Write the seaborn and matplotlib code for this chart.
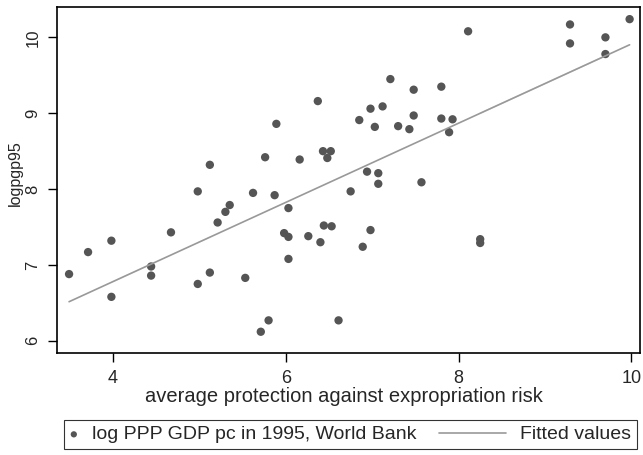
import numpy as np
import pandas as pd
import matplotlib
matplotlib.use("Agg")
import matplotlib.pyplot as plt
import seaborn as sb
from matplotlib.collections import PathCollection
from matplotlib.lines import Line2D
from matplotlib.legend_handler import HandlerLine2D, HandlerPathCollection

# average protection against expropriation risk (x) and log GDP pc 1995 (y)
avexpr = [6.37, 5.89, 5.12, 5.76, 6.16, 6.43, 6.52, 6.48, 4.98, 5.62, 5.87,
          9.98, 9.29, 9.29, 9.70, 9.70, 8.11, 7.21, 7.80, 7.48, 6.98, 7.12,
          6.85, 7.03, 7.30, 7.43, 7.48, 7.80, 7.93, 7.89, 6.94, 7.07, 7.07,
          7.57, 6.75, 5.35, 5.30, 5.21, 6.03, 4.67, 3.98, 3.71, 3.49, 4.44,
          4.44, 3.98, 4.98, 5.12, 5.53, 5.98, 6.03, 6.03, 6.26, 6.40, 6.44,
          6.53, 5.71, 5.80, 6.61, 6.98, 6.89, 8.25, 8.25]
logpgp95 = [9.16, 8.86, 8.32, 8.42, 8.39, 8.50, 8.50, 8.41, 7.97, 7.95, 7.92,
            10.24, 10.17, 9.92, 10.00, 9.78, 10.08, 9.45, 9.35, 9.31, 9.06, 9.09,
            8.91, 8.82, 8.83, 8.79, 8.97, 8.93, 8.92, 8.75, 8.23, 8.21, 8.07,
            8.09, 7.97, 7.79, 7.70, 7.56, 7.75, 7.43, 7.32, 7.17, 6.88, 6.98,
            6.86, 6.58, 6.75, 6.90, 6.83, 7.42, 7.37, 7.08, 7.38, 7.30, 7.52,
            7.51, 6.12, 6.27, 6.27, 7.46, 7.24, 7.34, 7.29]

xticks = [4, 6, 8, 10]
yticks = [6, 7, 8, 9, 10]

df = pd.DataFrame({"avexpr": avexpr, "logpgp95": logpgp95})

# fitted values from OLS
b, a = np.polyfit(df["avexpr"], df["logpgp95"], 1)
df["fitted"] = a + b * df["avexpr"]
df = df.sort_values("avexpr")


# long legend line that reaches back into the column gap (Stata-like key)
class LongLine(HandlerLine2D):
    def get_xdata(self, legend, xdescent, ydescent, width, height, fontsize):
        extra = 3.05 * fontsize
        xdata = np.array([-xdescent - extra, -xdescent + width])
        return xdata, xdata


sb.set_style("white")
plt.rcParams["font.family"] = ["Liberation Sans", "DejaVu Sans"]

fig = plt.figure(figsize=(6.43, 4.55), dpi=100)
ax = fig.add_axes([0.0886, 0.2242, 0.9067, 0.7604])

sb.scatterplot(data=df, x="avexpr", y="logpgp95", color="#555555", s=36,
               edgecolor="none", label="log PPP GDP pc in 1995, World Bank", ax=ax)
sb.lineplot(data=df, x="avexpr", y="fitted", color="#999999", linewidth=1.2,
            label="Fitted values", ax=ax)

ax.set_xlim(3.35, 10.10)
ax.set_ylim(5.84, 10.40)
ax.set_xticks(xticks)
ax.set_yticks(yticks)
ax.set_xticklabels([str(t) for t in xticks])
ax.set_yticklabels([str(t) for t in yticks], rotation=90, va="center")
ax.tick_params(axis="both", direction="out", length=6.5, width=1,
               bottom=True, left=True, color="black")
ax.tick_params(axis="x", labelsize=13, pad=6)
ax.tick_params(axis="y", labelsize=12, pad=5.4)
for sp in ax.spines.values():
    sp.set_color("black")
    sp.set_linewidth(1.2)

ax.set_xlabel("average protection against expropriation risk", fontsize=14.5, va="top")
ax.xaxis.set_label_coords(0.492, -0.099)
ax.set_ylabel("logpgp95", fontsize=11.5)
ax.yaxis.set_label_coords(-0.058, 0.52)

handles, labels = ax.get_legend_handles_labels()
ax.get_legend().remove()
leg = fig.legend(handles, labels, loc="upper left",
                 bbox_to_anchor=(64 / 643, 1 - 420 / 455), bbox_transform=fig.transFigure,
                 borderaxespad=0, ncol=2, frameon=True, fancybox=False,
                 edgecolor="black", fontsize=14, handlelength=0.41,
                 handletextpad=0.72, columnspacing=4.22, borderpad=0.3,
                 markerscale=0.75,
                 handler_map={PathCollection: HandlerPathCollection(),
                              Line2D: LongLine()})
leg.get_frame().set_linewidth(0.8)

fig.savefig("out.png", dpi=100)
